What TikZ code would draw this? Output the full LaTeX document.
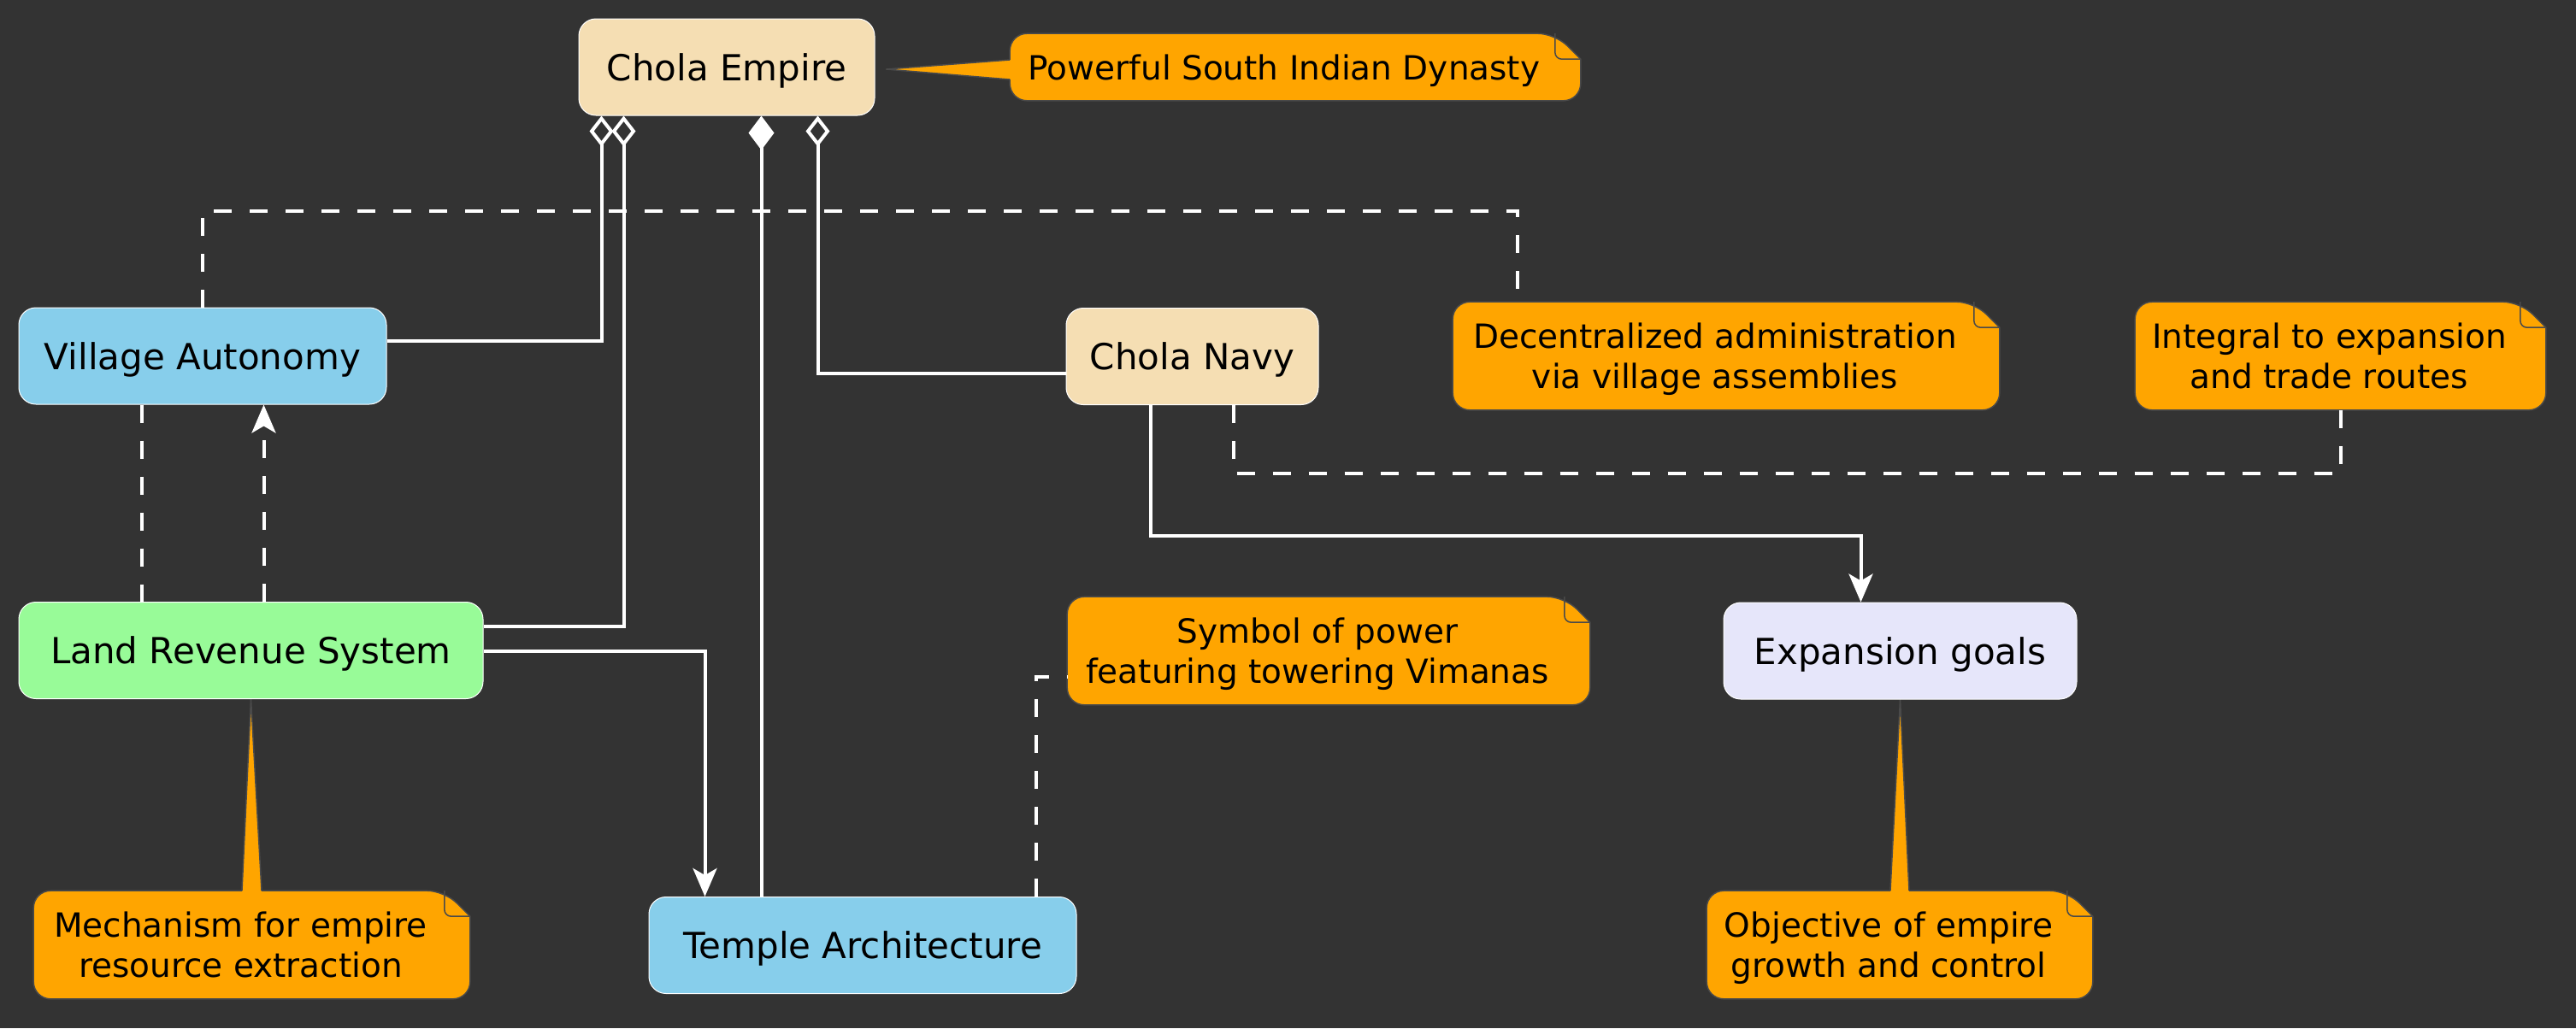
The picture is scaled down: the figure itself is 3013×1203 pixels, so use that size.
\documentclass[tikz,border=0pt]{standalone}
\usepackage{fontspec}
\setmainfont{DejaVu Sans}
\usetikzlibrary{arrows.meta,calc}
\pgfdeclarelayer{notebg}
\pgfsetlayers{notebg,main}
\definecolor{darkbg}{HTML}{333333}
\definecolor{wheat}{HTML}{F5DEB3}
\definecolor{skyblue}{HTML}{87CEEB}
\definecolor{palegreen}{HTML}{98FB98}
\definecolor{lavender}{HTML}{E6E6FA}
\definecolor{noteorange}{HTML}{FFA500}
\definecolor{noteline}{HTML}{4A4A4A}

\begin{document}
\begin{tikzpicture}[x=0.25pt,y=-0.25pt,
  box/.style={draw=white,line width=0.25pt,rounded corners=5pt,minimum height=28.25pt,inner sep=0pt,
    font=\fontsize{10.5pt}{12.6pt}\selectfont,text depth=0pt},
  note/.style={inner sep=0pt,align=center,minimum height=31.25pt,
    font=\fontsize{9.75pt}{11.75pt}\selectfont,text depth=0pt},
  pointer/.style={noteline,line width=0.375pt},
  link/.style={white,line width=1pt},
  dashline/.style={link,dash pattern=on 5.25pt off 5.25pt},
  arr/.style={-{Stealth[length=8.25pt,width=7pt,inset=2pt]}},
  agg/.style={arrows={{Diamond[open,length=9pt,width=7pt]}-}},
  comp/.style={arrows={{Diamond[length=10pt,width=7.5pt]}-}}]
\begin{pgfonlayer}{notebg}
\fill[darkbg] (0,0) rectangle (3013,1203);
\end{pgfonlayer}
\useasboundingbox (0,0) rectangle (3013,1203);

% classes
\node[box,fill=wheat,minimum width=86.5pt] (ce) at (850,78.5) {Chola Empire};
\node[box,fill=skyblue,minimum width=107.5pt] (va) at (237,416.5) {Village Autonomy};
\node[box,fill=wheat,minimum width=73.75pt] (cn) at (1394.5,417) {Chola Navy};
\node[box,fill=palegreen,minimum width=135.75pt] (lrs) at (293.5,761) {Land Revenue System};
\node[box,fill=lavender,minimum width=103.25pt] (eg) at (2222.5,761.5) {Expansion goals};
\node[box,fill=skyblue,minimum width=125pt] (ta) at (1009,1106) {Temple Architecture};

% notes
\node[note,minimum width=160pt,minimum height=19.25pt] (npow) at (1502,78.5) {Powerful South Indian Dynasty};
\node[note,minimum width=153pt] (ndec) at (2006,416.5) {Decentralized administration\\via village assemblies};
\node[note,minimum width=113.25pt] (nint) at (2724.5,416.5) {Integral to expansion\\and trade routes};
\node[note,minimum width=146pt] (nsym) at (1541,761.5) {Symbol of power\\featuring towering Vimanas};
\node[note,minimum width=120.75pt] (nmech) at (281.5,1105.5) {Mechanism for empire\\resource extraction};
\node[note,minimum width=106pt] (nobj) at (2209,1105.5) {Objective of empire\\growth and control};

\begin{pgfonlayer}{notebg}
\foreach \n in {npow,ndec,nint,nsym,nmech,nobj}{
  \filldraw[fill=noteorange,draw=noteline,line width=0.375pt] (\n.west) [rounded corners=5pt] |- ($(\n.north east)+(-4,0)$)
    [sharp corners] -- ($(\n.north east)+(26,30)$) -- ($(\n.north east)+(26,31)$)
    [rounded corners=5pt] |- (\n.south) -| ($(\n.west)+(0,1)$) -- cycle;
  \draw[pointer,rounded corners=2pt] ($(\n.north east)+(-4,0)$) -- ($(\n.north east)+(-4,30)$) -- ($(\n.north east)+(26,30)$);
}
\fill[noteorange] ($(npow.west)+(3,-8.5)$) -- ($(ce.east)+(13,2.5)$) -- ($(npow.west)+(3,14.5)$) -- cycle;
\draw[pointer] ($(npow.west)+(0,-8.5)$) -- ($(ce.east)+(13,2.5)$) -- ($(npow.west)+(0,14.5)$);
\fill[noteorange] ($(nmech.north)+(1.5,3)$) -- (lrs.south) -- ($(nmech.north)+(24.5,3)$) -- cycle;
\draw[pointer] ($(nmech.north)+(1.5,0)$) -- (lrs.south) -- ($(nmech.north)+(24.5,0)$);
\fill[noteorange] ($(nobj.north)+(2,3)$) -- (eg.south) -- ($(nobj.north)+(24,3)$) -- cycle;
\draw[pointer] ($(nobj.north)+(2,0)$) -- (eg.south) -- ($(nobj.north)+(24,0)$);
\end{pgfonlayer}

% relations
\draw[link,agg] ($(ce.south west)+(27,0)$) |- ($(va.east)+(0,-18)$);
\draw[link,agg] ($(ce.south west)+(53,0)$) |- ($(lrs.east)+(0,-28)$);
\draw[link,comp] ($(ce.south west)+(214,0)$) -- ($(ta.north west)+(132,0)$);
\draw[link,agg] ($(ce.south west)+(280,0)$) |- ($(cn.west)+(0,20)$);
\draw[link,arr] ($(cn.south west)+(99,0)$) -- ++(0,153) -| ($(eg.north west)+(161,0)$);
\draw[link,arr] ($(lrs.east)+(0,1)$) -| ($(ta.north west)+(66,0)$);
\draw[dashline,arr] ($(lrs.north west)+(287,0)$) -- ($(va.south west)+(287,0)$);
\draw[dashline] ($(va.south west)+(144,0)$) -- ($(lrs.north west)+(144,0)$);

% note links
\draw[dashline] (va.north) -- ++(0,-113) -| ($(ndec.north west)+(76,0)$);
\draw[dashline] ($(cn.south west)+(196,0)$) -- ++(0,80) -| ($(nint.south)+(13,0)$);
\draw[dashline] ($(ta.north west)+(453,0)$) |- ($(nsym.west)+(0,30)$);
\end{tikzpicture}
\end{document}
